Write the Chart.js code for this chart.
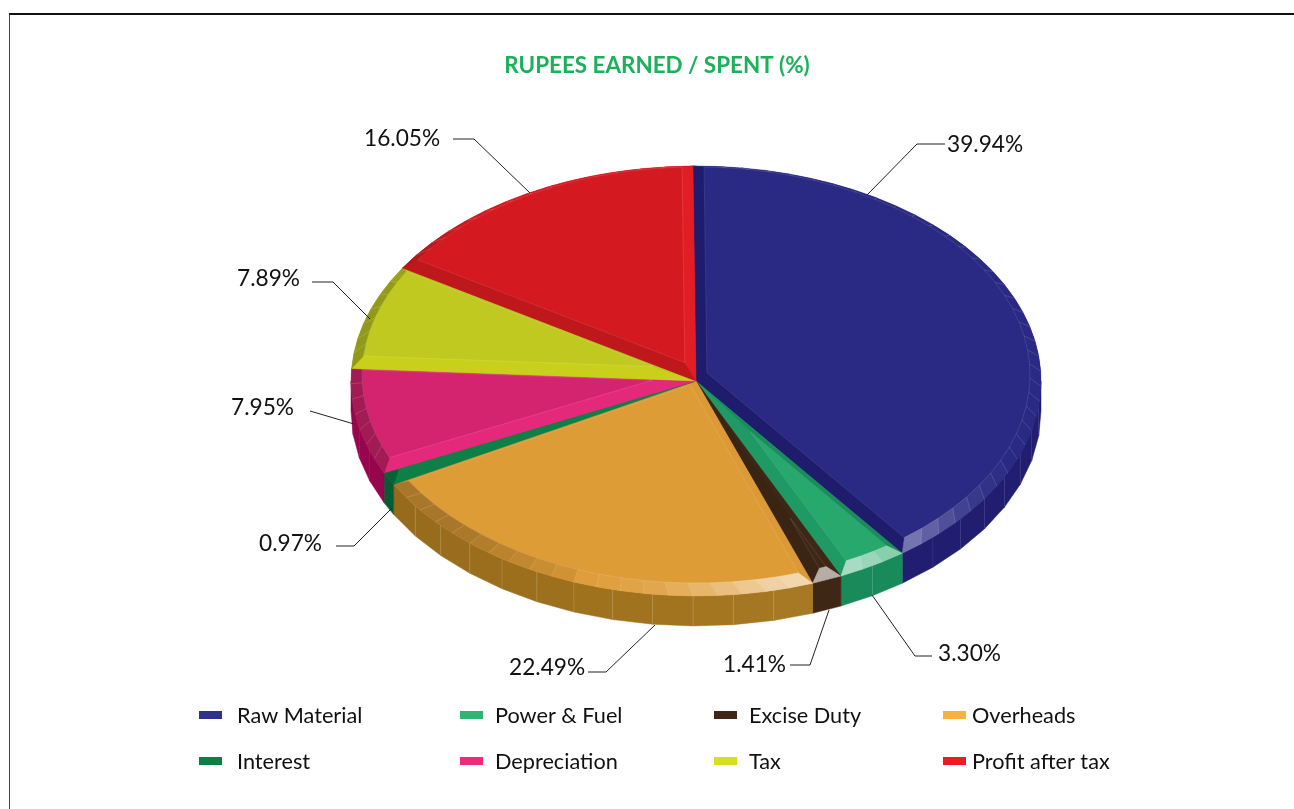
<!DOCTYPE html>
<html>
<head>
<meta charset="utf-8">
<title>Rupees earned / spent</title>
<script src="https://cdn.jsdelivr.net/npm/chart.js@4"></script>
<style>
    html, body { margin: 0; padding: 0; background: #fff; }
    #wrap { position: relative; width: 1294px; height: 809px; overflow: hidden; }
    #frame { position: absolute; left: 9px; top: 13px; right: 0; bottom: 0; border-top: 2px solid #111; border-left: 1px solid #444; }
    canvas { position: absolute; left: 0; top: 0; }
</style>
</head>
<body>
<div id="wrap">
    <div id="frame"></div>
    <canvas id="myChart" width="1294" height="809"></canvas>
</div>
<script>
const titleText = 'RUPEES EARNED / SPENT (%)';
const categories = ['Raw Material', 'Power & Fuel', 'Excise Duty', 'Overheads', 'Interest', 'Depreciation', 'Tax', 'Profit after tax'];
const shares = [39.94, 3.30, 1.41, 22.49, 0.97, 7.95, 7.89, 16.05];

// face, bevels and outer wall of every slice
const topColors = ['#2a2a84', '#27a86c', '#3f2716', '#de9c37', '#0d7f47', '#d5246f', '#bfc91f', '#d41a20'];
const startBevel = ['#1f1c6d', '#1b8c5c', '#3f2716', '#dc9a36', '#0d7f47', '#e4287a', '#c8d01c', '#be171c'];
const endBevel = ['#1f1c6d', '#1f9a64', '#3a2414', '#d99834', '#0e8049', '#d5246f', '#bdc51f', '#e21e25'];
const sideColors = ['#211d70', '#198a5a', '#3f2716', '#a4751f', '#045c33', '#96054e', '#8f9011', '#a51318'];
const sideTone = [0, 0, 0, 0.1, 0, 0, 0, 0];
const sideLineAlpha = [0.1, 0.2, 0, 0.22, 0, 0, 0, 0];
const legendColors = ['#2e3192', '#2bb673', '#3f2717', '#fbb03b', '#0c8044', '#ee2a7b', '#d7df23', '#ed1c24'];

// callouts: where each percentage sits and its leader line
const labelX = [947, 938, 723, 509, 259, 231, 237, 364];
const labelY = [145, 654, 665, 668, 544, 408, 279, 139];
const leaders = [
    [[945, 144], [917, 144], [867, 195]],
    [[932, 656], [915, 656], [872, 595]],
    [[790, 665], [810, 665], [829, 610]],
    [[588, 672], [606, 672], [655, 625]],
    [[336, 546], [354, 546], [392, 508]],
    [[310, 411], [354, 424]],
    [[312, 282], [333, 282], [370, 319]],
    [[453, 139], [474, 139], [530, 193]]
];

const legendSwatchX = [199, 460, 714, 943];
const legendTextX = [237, 495, 749, 972];
const legendRowY = [715, 761];

const SQUASH = 0.623;      // ellipse height / width
const SHIFT_X = 39;        // pie centre is right of the title centre
const DEPTH = 30;
const INSET = 11;          // bevel width, before squashing
const LIFT = 6;            // raised face sits higher than the pie's edge
const LABEL_FONT = '22.7px Lato';
const LEGEND_FONT = '21.7px Lato';

function mix(hex, target, f) {
    const n = parseInt(hex.slice(1), 16);
    const c = [n >> 16, (n >> 8) & 255, n & 255].map(v => Math.round(v + (target - v) * f));
    return `rgb(${c[0]},${c[1]},${c[2]})`;
}

function rimColor(i, angle) {
    let deg = (angle + Math.PI / 2) * 180 / Math.PI;
    const white = 0.62 * Math.exp(-Math.pow((deg - 158) / 22, 2));
    if (white > 0.02) return mix(topColors[i], 255, white);
    let dark = 0;
    if (deg > 195 && deg < 320) dark = 0.24 * Math.min(1, (deg - 195) / 30, (320 - deg) / 25);
    return mix(topColors[i], 0, dark);
}

function fillPoly(ctx, pts, color) {
    ctx.beginPath();
    pts.forEach((p, n) => n ? ctx.lineTo(p[0], p[1]) : ctx.moveTo(p[0], p[1]));
    ctx.closePath();
    ctx.fillStyle = color;
    ctx.strokeStyle = color;
    ctx.lineWidth = 0.5;
    ctx.fill();
    ctx.stroke();
}

function strokeLine(ctx, pts, color, width) {
    ctx.beginPath();
    pts.forEach((p, n) => n ? ctx.lineTo(p[0], p[1]) : ctx.moveTo(p[0], p[1]));
    ctx.strokeStyle = color;
    ctx.lineWidth = width;
    ctx.stroke();
}

// arc point on the squashed, shifted pie
function onPie(arc, angle, r, lift) {
    return [arc.x + SHIFT_X + r * Math.cos(angle), arc.y + SQUASH * r * Math.sin(angle) - (lift || 0)];
}

function drawWall(ctx, arc, i) {
    const a0 = Math.max(arc.startAngle, 0);
    const a1 = Math.min(arc.endAngle, Math.PI);
    if (a0 >= a1) return;
    const R = arc.outerRadius;
    const count = Math.max(1, Math.round((a1 - a0) / (6.6 * Math.PI / 180)));
    for (let n = 0; n < count; n++) {
        const s = a0 + (a1 - a0) * n / count;
        const e = a0 + (a1 - a0) * (n + 1) / count;
        const tone = Math.cos((s + e) / 2) * sideTone[i];
        const color = tone > 0 ? mix(sideColors[i], 255, tone) : mix(sideColors[i], 0, -tone);
        const p = onPie(arc, s, R), q = onPie(arc, e, R);
        fillPoly(ctx, [p, q, [q[0], q[1] + DEPTH], [p[0], p[1] + DEPTH]], color);
    }
    if (!sideLineAlpha[i]) return;
    for (let n = 1; n < count; n++) {
        const p = onPie(arc, a0 + (a1 - a0) * n / count, R);
        strokeLine(ctx, [p, [p[0], p[1] + DEPTH]], `rgba(255,255,255,${sideLineAlpha[i]})`, 0.7);
    }
}

// bevelled top: two strips along the straight edges and a faceted rim
function drawBevel(ctx, arc, i) {
    const R = arc.outerRadius, inner = R - INSET;
    const span = arc.endAngle - arc.startAngle;
    const mid = arc.startAngle + span / 2;
    const c = onPie(arc, 0, 0);
    const outer0 = onPie(arc, arc.startAngle, R), outer1 = onPie(arc, arc.endAngle, R);

    // very thin slices have no raised face, their strips meet at the rim
    const apexR = INSET / Math.sin(span / 2);
    const flat = apexR >= inner;
    const apex = onPie(arc, mid, flat ? inner : apexR, LIFT);
    const gap = Math.asin(INSET / inner);
    const in0 = flat ? mid : arc.startAngle + gap;
    const in1 = flat ? mid : arc.endAngle - gap;

    fillPoly(ctx, [c, outer0, onPie(arc, in0, inner, LIFT), apex], startBevel[i]);
    fillPoly(ctx, [c, outer1, onPie(arc, in1, inner, LIFT), apex], endBevel[i]);

    const count = Math.max(1, Math.round(span / (4 * Math.PI / 180)));
    const lines = [];
    for (let n = 0; n < count; n++) {
        const s0 = n / count, s1 = (n + 1) / count;
        const o0 = arc.startAngle + span * s0, o1 = arc.startAngle + span * s1;
        const i0 = in0 + (in1 - in0) * s0, i1 = in0 + (in1 - in0) * s1;
        fillPoly(ctx, [onPie(arc, o0, R), onPie(arc, o1, R), onPie(arc, i1, inner, LIFT), onPie(arc, i0, inner, LIFT)], rimColor(i, (o0 + o1) / 2));
        if (n > 0) lines.push([onPie(arc, o0, R), onPie(arc, i0, inner, LIFT)]);
    }
    lines.forEach(l => strokeLine(ctx, l, 'rgba(255,255,255,0.2)', 0.7));

    if (flat) return;
    const edge = [apex];
    for (let n = 0; n <= count; n++) edge.push(onPie(arc, in0 + (in1 - in0) * n / count, inner, LIFT));
    edge.push(apex);
    strokeLine(ctx, edge, 'rgba(255,255,255,0.16)', 0.7);
}

const pie3d = {
    id: 'pie3d',
    beforeDatasetsDraw(chart) {
        const ctx = chart.ctx;
        const arcs = chart.getDatasetMeta(0).data;
        arcs.forEach((arc, i) => drawWall(ctx, arc, i));
        // the library draws its round pie squashed into an ellipse
        const cy = arcs[0].y;
        ctx.save();
        ctx.translate(SHIFT_X, cy);
        ctx.scale(1, SQUASH);
        ctx.translate(0, -cy);
    },
    afterDatasetsDraw(chart) {
        const ctx = chart.ctx;
        ctx.restore();
        const arcs = chart.getDatasetMeta(0).data;
        arcs.forEach((arc, i) => drawBevel(ctx, arc, i));

        ctx.textBaseline = 'middle';
        ctx.textAlign = 'left';
        ctx.font = LABEL_FONT;
        shares.forEach((v, i) => {
            strokeLine(ctx, leaders[i], '#222', 1);
            ctx.fillStyle = '#111';
            ctx.fillText(v.toFixed(2) + '%', labelX[i], labelY[i]);
        });

        ctx.font = LEGEND_FONT;
        categories.forEach((name, i) => {
            const col = i % 4, y = legendRowY[Math.floor(i / 4)];
            ctx.fillStyle = legendColors[i];
            ctx.fillRect(legendSwatchX[col], y - 4, 23, 8);
            ctx.fillStyle = '#111';
            ctx.fillText(name, legendTextX[col], y + 1);
        });
    }
};

const ctx = document.getElementById('myChart').getContext('2d');
const chart = new Chart(ctx, {
    type: 'pie',
    data: {
        labels: categories,
        datasets: [{
            data: shares,
            backgroundColor: topColors,
            borderWidth: 0,
            hoverBorderWidth: 0
        }]
    },
    plugins: [pie3d],
    options: {
        responsive: false,
        animation: false,
        events: [],
        rotation: -0.5,
        layout: { padding: { left: 20, right: 0, top: 0, bottom: 83 } },
        plugins: {
            legend: { display: false },
            tooltip: { enabled: false },
            title: {
                display: true,
                text: titleText,
                color: '#1cb05a',
                font: { family: 'Lato', size: 22.4, weight: 'bold' },
                padding: { top: 52, bottom: -42.9 }
            }
        }
    }
});
</script>
</body>
</html>
